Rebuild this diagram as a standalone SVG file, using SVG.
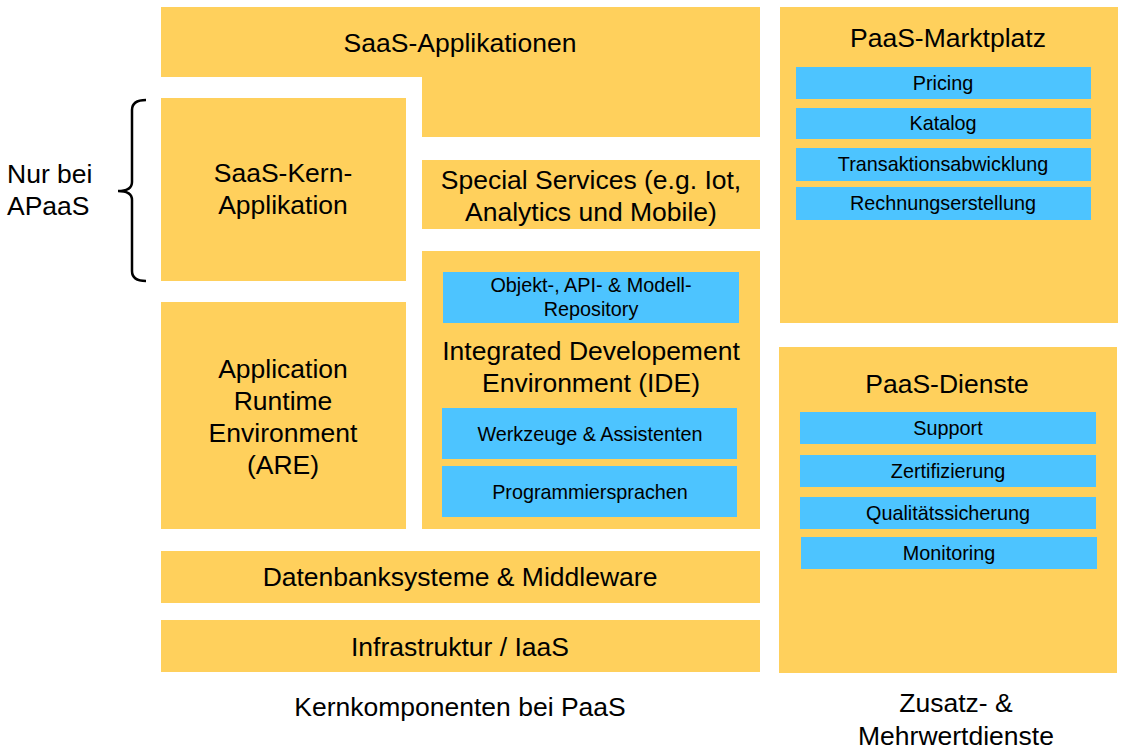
<svg xmlns="http://www.w3.org/2000/svg" width="1124" height="750" viewBox="0 0 1124 750">
<style>
.y{fill:#FFD05C}
.b{fill:#4DC4FF}
text{font-family:"Liberation Sans",Arial,sans-serif;fill:#000;text-anchor:middle}
.L{font-size:26.5px}
.S{font-size:19.8px}
</style>
<rect width="1124" height="750" fill="#fff"/>
<g id="saas-applikationen">
<path class="y" d="M161,7 H760 V137 H422 V77 H161 Z"/>
<text class="L" x="460" y="52">SaaS-Applikationen</text>
</g>
<g id="saas-kern">
<rect class="y" x="161" y="98" width="245" height="183"/>
<text class="L" x="283" y="182">SaaS-Kern-</text>
<text class="L" x="283" y="214">Applikation</text>
</g>
<g id="special-services">
<rect class="y" x="422" y="160" width="338" height="69"/>
<text class="L" x="591" y="189">Special Services (e.g. Iot,</text>
<text class="L" x="591" y="221">Analytics und Mobile)</text>
</g>
<g id="are">
<rect class="y" x="161" y="302" width="245" height="227"/>
<text class="L" x="283" y="378">Application</text>
<text class="L" x="283" y="410">Runtime</text>
<text class="L" x="283" y="442">Environment</text>
<text class="L" x="283" y="474">(ARE)</text>
</g>
<g id="ide">
<rect class="y" x="422" y="251" width="338" height="278"/>
<rect class="b" x="443" y="272" width="296" height="51"/>
<text class="S" x="591" y="292">Objekt-, API- &amp; Modell-</text>
<text class="S" x="591" y="316">Repository</text>
<text class="L" x="591" y="360">Integrated Developement</text>
<text class="L" x="591" y="392">Environment (IDE)</text>
<rect class="b" x="442" y="408" width="295" height="51"/>
<text class="S" x="590" y="441">Werkzeuge &amp; Assistenten</text>
<rect class="b" x="442" y="466" width="295" height="51"/>
<text class="S" x="590" y="499">Programmiersprachen</text>
</g>
<g id="datenbank">
<rect class="y" x="161" y="551" width="599" height="52"/>
<text class="L" x="460" y="586">Datenbanksysteme &amp; Middleware</text>
</g>
<g id="infrastruktur">
<rect class="y" x="161" y="620" width="599" height="52"/>
<text class="L" x="460" y="656">Infrastruktur / IaaS</text>
</g>
<g id="marktplatz">
<rect class="y" x="780" y="7" width="338" height="316"/>
<text class="L" x="948" y="47">PaaS-Marktplatz</text>
<rect class="b" x="796" y="67" width="295" height="32"/>
<text class="S" x="943" y="90">Pricing</text>
<rect class="b" x="796" y="108" width="295" height="31"/>
<text class="S" x="943" y="130">Katalog</text>
<rect class="b" x="796" y="148" width="295" height="33"/>
<text class="S" x="943" y="171">Transaktionsabwicklung</text>
<rect class="b" x="796" y="187" width="295" height="33"/>
<text class="S" x="943" y="210">Rechnungserstellung</text>
</g>
<g id="dienste">
<rect class="y" x="779" y="347" width="338" height="326"/>
<text class="L" x="947" y="393">PaaS-Dienste</text>
<rect class="b" x="800" y="412" width="296" height="32"/>
<text class="S" x="948" y="435">Support</text>
<rect class="b" x="800" y="455" width="296" height="32"/>
<text class="S" x="948" y="478">Zertifizierung</text>
<rect class="b" x="800" y="497" width="296" height="32"/>
<text class="S" x="948" y="520">Qualitätssicherung</text>
<rect class="b" x="801" y="537" width="296" height="32"/>
<text class="S" x="949" y="560">Monitoring</text>
</g>
<g id="connectors">
<path d="M146,100 Q132,100 132,110 V182 Q132,191 118,191 Q132,191 132,200 V271 Q132,281 146,281" fill="none" stroke="#000" stroke-width="2.5"/>
</g>
<g id="labels">
<text class="L" x="7" y="183" style="text-anchor:start">Nur bei</text>
<text class="L" x="7" y="215" style="text-anchor:start">APaaS</text>
<text class="L" x="460" y="716">Kernkomponenten bei PaaS</text>
<text class="L" x="956" y="712">Zusatz- &amp;</text>
<text class="L" x="956" y="745">Mehrwertdienste</text>
</g>
</svg>
